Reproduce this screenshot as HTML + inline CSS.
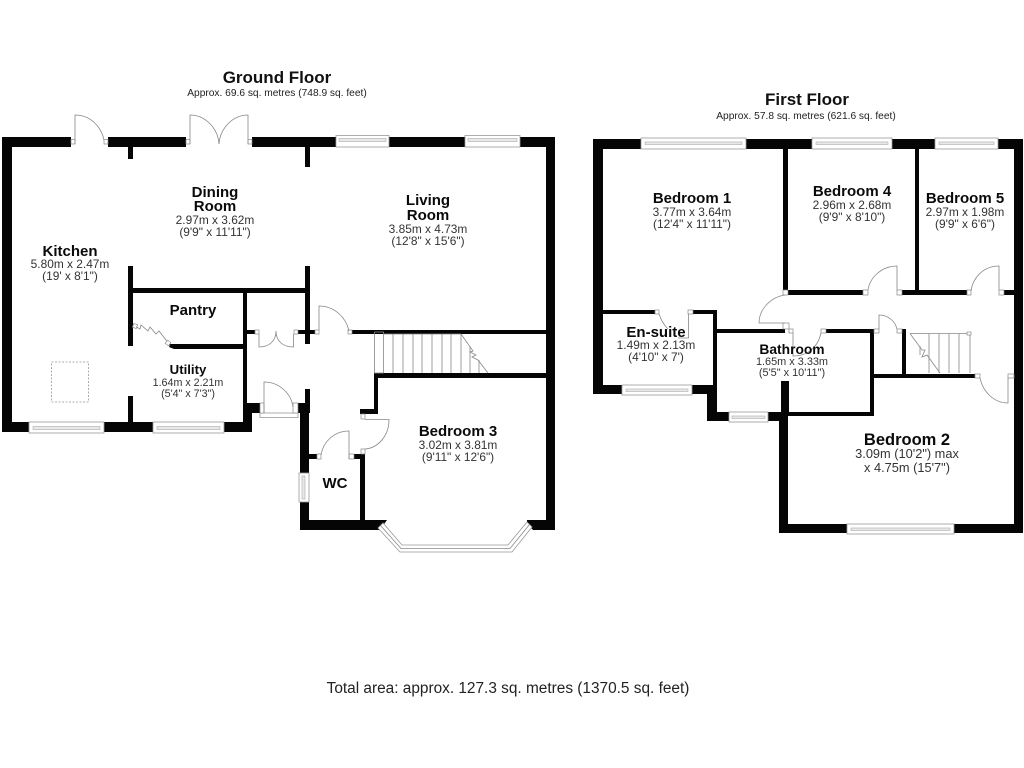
<!DOCTYPE html>
<html>
<head>
<meta charset="utf-8">
<style>
html,body{margin:0;padding:0;background:#fff;width:1024px;height:768px;overflow:hidden}
svg{display:block;filter:blur(.3px)}
text{font-family:"Liberation Sans",Arial,sans-serif;text-anchor:middle}
.n{font-weight:bold;font-size:15px;fill:#0a0a0a}
.d{font-size:11.9px;fill:#333}
.w{fill:#050505}
.j{fill:#fff;stroke:#888;stroke-width:.7}
.l{fill:none;stroke:#888;stroke-width:.8}
.win{fill:#fff;stroke:#999;stroke-width:.8}
.win2{fill:#e8e8e8;stroke:#aaa;stroke-width:.6}
</style>
</head>
<body>
<svg width="1024" height="768" viewBox="0 0 1024 768" xmlns="http://www.w3.org/2000/svg">
<rect width="1024" height="768" fill="#fff"/>

<!-- Titles -->
<text x="277" y="83" style="font-weight:bold;font-size:17px;fill:#111">Ground Floor</text>
<text x="277" y="96" style="font-size:10.2px;fill:#222">Approx. 69.6 sq. metres (748.9 sq. feet)</text>
<text x="807" y="105" style="font-weight:bold;font-size:17px;fill:#111">First Floor</text>
<text x="806" y="119" style="font-size:10.2px;fill:#222">Approx. 57.8 sq. metres (621.6 sq. feet)</text>
<text x="508" y="693" style="font-size:15.4px;fill:#222">Total area: approx. 127.3 sq. metres (1370.5 sq. feet)</text>

<!-- GROUND FLOOR WALLS -->
<g class="w">
<rect x="2" y="137" width="10" height="295"/>
<rect x="2" y="137" width="69" height="10"/>
<rect x="108" y="137" width="78" height="10"/>
<rect x="252" y="137" width="303" height="10"/>
<rect x="546" y="137" width="9" height="393"/>
<rect x="128" y="147" width="5" height="12"/>
<rect x="305" y="147" width="5" height="20"/>
<rect x="2" y="422" width="250" height="10"/>
<rect x="128" y="266" width="5" height="80"/>
<rect x="128" y="288" width="182" height="5"/>
<rect x="243" y="288" width="4" height="140"/>
<polygon points="170,344 243,344 243,349 174,349 169,347"/>
<rect x="128" y="396" width="5" height="26"/>
<rect x="247" y="403" width="13" height="10"/>
<rect x="247" y="403" width="5" height="29"/>
<rect x="305" y="266" width="5" height="78"/>
<rect x="247" y="330" width="8" height="4"/>
<rect x="298" y="330" width="17" height="4"/>
<rect x="352" y="330" width="194" height="4"/>
<rect x="374" y="373" width="172" height="5"/>
<rect x="374" y="373" width="4" height="41"/>
<rect x="360" y="409" width="18" height="5"/>
<rect x="298" y="403" width="12" height="10"/>
<rect x="305" y="389" width="5" height="16"/>
<rect x="300" y="403" width="9" height="127"/>
<rect x="300" y="520" width="82" height="10"/>
<rect x="360" y="454" width="5" height="68"/>
<rect x="354" y="454" width="10" height="5"/>
<rect x="309" y="454" width="8" height="5"/>
<polygon points="527,520 555,520 555,530 533,530 527,524"/>
<polygon points="365,520 387,520 382,527 378,530 365,530"/>
</g>

<!-- Ground windows -->
<g>
<rect class="win" x="336" y="135.5" width="53" height="11.5"/><rect class="win2" x="339" y="138.5" width="47" height="3"/>
<rect class="win" x="465" y="135.5" width="55" height="11.5"/><rect class="win2" x="468" y="138.5" width="49" height="3"/>
<rect class="win" x="29" y="422" width="75" height="11"/><rect class="win2" x="33" y="426.5" width="67" height="3"/>
<rect class="win" x="153" y="422" width="71" height="11"/><rect class="win2" x="157" y="426.5" width="63" height="3"/>
<rect class="win" x="299" y="473" width="10" height="29"/><rect class="win2" x="302" y="476" width="3" height="23"/>
<rect class="win" x="260" y="413" width="38" height="4.5"/>
</g>

<!-- Bay window -->
<polygon points="378,528 383,523 402,545 508,545 527,522 532,527 512,552 400,552" fill="#fff" stroke="#999" stroke-width=".8"/>
<polyline class="l" points="380.5,525.5 401,548.5 510,548.5 529.5,524.5"/>

<!-- Ground doors -->
<g>
<rect class="j" x="71" y="139.5" width="4" height="4.5"/><rect class="j" x="104" y="139.5" width="4" height="4.5"/>
<path class="l" d="M75 144V115C90 115 101 126 104 140"/>
<rect class="j" x="186" y="139.5" width="4" height="4.5"/><rect class="j" x="248" y="139.5" width="4" height="4.5"/>
<path class="l" d="M190 144V115C205 115 218 128 219 144M248 144V115C233 115 220 128 219 144"/>
<rect class="j" x="255" y="330" width="4" height="4"/><rect class="j" x="294" y="330" width="4" height="4"/>
<path class="l" d="M259 334V347C268 347 276 342 276 331C276 342 284 347 293.5 347V334"/>
<rect class="j" x="315" y="330" width="4" height="4"/><rect class="j" x="348" y="330" width="4" height="4"/>
<path class="l" d="M319 330V306C334 306 346 317 349 331"/>
<rect class="j" x="260" y="403" width="4" height="10"/><rect class="j" x="293" y="403" width="5" height="10"/>
<path class="l" d="M264 413V382C279 382 291 393 293 407"/>
<rect class="j" x="317" y="454" width="4" height="5"/><rect class="j" x="349" y="454" width="5" height="5"/>
<path class="l" d="M349 459V431C334 431 323 442 321 455"/>
<rect class="j" x="361" y="414" width="4" height="5"/><rect class="j" x="361" y="449" width="4" height="5"/>
<path class="l" d="M365 419.5H389C389 436 378 448 365 449"/>
<!-- pantry zigzag door -->
<polyline class="l" points="133,325 140,329 141,325 148,331 150,327 156,334 159,331 166,340 170,345"/>
<rect class="j" x="133" y="324" width="4" height="4" transform="rotate(20 135 326)"/>
<rect class="j" x="166" y="341" width="4" height="4" transform="rotate(40 168 343)"/>
</g>

<!-- Skylight -->
<rect x="51.5" y="362" width="37" height="40" fill="none" stroke="#999" stroke-width=".8" stroke-dasharray="2 1.5"/>

<!-- Ground stairs -->
<g class="l">
<rect x="374.5" y="332" width="9" height="41"/>
<path d="M383 334H461M393 334V373M403 334V373M413 334V373M422 334V373M432 334V373M442 334V373M451 334V373M461 334V373M470 347V373M479 360V373"/>
<path d="M461 334L473 351L470 352L476 355L472 357L478 360L488 373"/>
</g>

<!-- FIRST FLOOR WALLS -->
<g class="w">
<rect x="593" y="139" width="10" height="255"/>
<rect x="593" y="139" width="430" height="10"/>
<rect x="1014" y="139" width="9" height="394"/>
<rect x="783" y="149" width="5" height="146"/>
<rect x="915" y="149" width="4" height="146"/>
<rect x="788" y="290" width="75" height="5"/>
<rect x="902" y="290" width="65" height="5"/>
<rect x="1004" y="290" width="10" height="5"/>
<rect x="603" y="310" width="52" height="4"/>
<rect x="693" y="310" width="24" height="4"/>
<rect x="713" y="310" width="4" height="80"/>
<rect x="593" y="385" width="124" height="9"/>
<rect x="707" y="385" width="10" height="36"/>
<rect x="707" y="412" width="81" height="9"/>
<rect x="717" y="329" width="68" height="4"/>
<rect x="826" y="329" width="48" height="4"/>
<rect x="870" y="329" width="4" height="87"/>
<rect x="779" y="412" width="95" height="4"/>
<rect x="781" y="381" width="8" height="35"/>
<rect x="779" y="412" width="9" height="121"/>
<rect x="779" y="524" width="244" height="9"/>
<rect x="902" y="329" width="4" height="46"/>
<rect x="874" y="374" width="101" height="4"/>
</g>

<!-- First windows -->
<g>
<rect class="win" x="641" y="138" width="105" height="11"/><rect class="win2" x="645" y="142" width="97" height="2.5"/>
<rect class="win" x="812" y="138" width="80" height="11"/><rect class="win2" x="816" y="142" width="72" height="2.5"/>
<rect class="win" x="935" y="138" width="63" height="11"/><rect class="win2" x="939" y="142" width="55" height="2.5"/>
<rect class="win" x="622" y="385" width="70" height="10"/><rect class="win2" x="626" y="389" width="62" height="2.5"/>
<rect class="win" x="729" y="412" width="39" height="10"/><rect class="win2" x="732" y="416" width="33" height="2.5"/>
<rect class="win" x="847" y="524" width="107" height="10"/><rect class="win2" x="851" y="528" width="99" height="2.5"/>
</g>

<!-- First doors -->
<g>
<rect class="j" x="863" y="290" width="5" height="5"/><rect class="j" x="897" y="290" width="5" height="5"/>
<path class="l" d="M897 290V266C882 266 870 277 868 290"/>
<rect class="j" x="967" y="290" width="4" height="5"/><rect class="j" x="999" y="290" width="5" height="5"/>
<path class="l" d="M999 290V266C984 266 973 277 971 291"/>
<rect class="j" x="783" y="290" width="5" height="5"/><rect class="j" x="783" y="323" width="6" height="6"/>
<path class="l" d="M785 295C771 297 759 309 759 323H785"/>
<rect class="j" x="789" y="329" width="4" height="4"/><rect class="j" x="821" y="329" width="5" height="4"/>
<path class="l" d="M793 333V356C808 356 818 347 821 333"/>
<rect class="j" x="655" y="310" width="4" height="4"/><rect class="j" x="688" y="310" width="5" height="4"/>
<path class="l" d="M659 314C661 320 664 325 668 329M678 338H688.5V314"/>
<rect class="j" x="874" y="329" width="5" height="4"/><rect class="j" x="897" y="329" width="5" height="4"/>
<path class="l" d="M879 329V315C888 315 895 321 897 329"/>
<rect class="j" x="975" y="374" width="5" height="4"/><rect class="j" x="1008" y="374" width="6" height="4"/>
<path class="l" d="M1008 378V403C994 403 983 392 980 378"/>
</g>

<!-- First stairs -->
<g class="l">
<path d="M910 333.5H970V373M929 333.5V373M939 333.5V373M949 333.5V373M959 333.5V373M920 346V355"/>
<path d="M910 333.5L922 350L925 350L922 357L927 355L940 373"/>
</g>
<rect class="j" x="967" y="332" width="4" height="3"/>

<!-- Labels ground -->
<text class="n" x="70" y="256">Kitchen</text>
<text class="d" x="70" y="268">5.80m x 2.47m</text>
<text class="d" x="70" y="280">(19' x 8'1")</text>

<text class="n" x="215" y="197">Dining</text>
<text class="n" x="215" y="211">Room</text>
<text class="d" x="215" y="224">2.97m x 3.62m</text>
<text class="d" x="215" y="236">(9'9" x 11'11")</text>

<text class="n" x="428" y="205">Living</text>
<text class="n" x="428" y="220">Room</text>
<text class="d" x="428" y="233">3.85m x 4.73m</text>
<text class="d" x="428" y="245">(12'8" x 15'6")</text>

<text class="n" x="193" y="315">Pantry</text>

<text class="n" x="188" y="374" style="font-size:13.2px">Utility</text>
<text class="d" x="188" y="386" style="font-size:10.7px">1.64m x 2.21m</text>
<text class="d" x="188" y="397" style="font-size:10.7px">(5'4" x 7'3")</text>

<text class="n" x="458" y="436">Bedroom 3</text>
<text class="d" x="458" y="449">3.02m x 3.81m</text>
<text class="d" x="458" y="461">(9'11" x 12'6")</text>

<text class="n" x="335" y="488">WC</text>

<!-- Labels first -->
<text class="n" x="692" y="203">Bedroom 1</text>
<text class="d" x="692" y="216">3.77m x 3.64m</text>
<text class="d" x="692" y="228">(12'4" x 11'11")</text>

<text class="n" x="852" y="196">Bedroom 4</text>
<text class="d" x="852" y="209">2.96m x 2.68m</text>
<text class="d" x="852" y="221">(9'9" x 8'10")</text>

<text class="n" x="965" y="203">Bedroom 5</text>
<text class="d" x="965" y="216">2.97m x 1.98m</text>
<text class="d" x="965" y="228">(9'9" x 6'6")</text>

<text class="n" x="656" y="337">En-suite</text>
<text class="d" x="656" y="349">1.49m x 2.13m</text>
<text class="d" x="656" y="361">(4'10" x 7')</text>

<text class="n" x="792" y="354" style="font-size:13.8px">Bathroom</text>
<text class="d" x="792" y="365" style="font-size:10.9px">1.65m x 3.33m</text>
<text class="d" x="792" y="376" style="font-size:10.9px">(5'5" x 10'11")</text>

<text class="n" x="907" y="445" style="font-size:16.5px">Bedroom 2</text>
<text class="d" x="907" y="458" style="font-size:12.8px">3.09m (10'2") max</text>
<text class="d" x="907" y="472" style="font-size:12.8px">x 4.75m (15'7")</text>
</svg>
</body>
</html>
